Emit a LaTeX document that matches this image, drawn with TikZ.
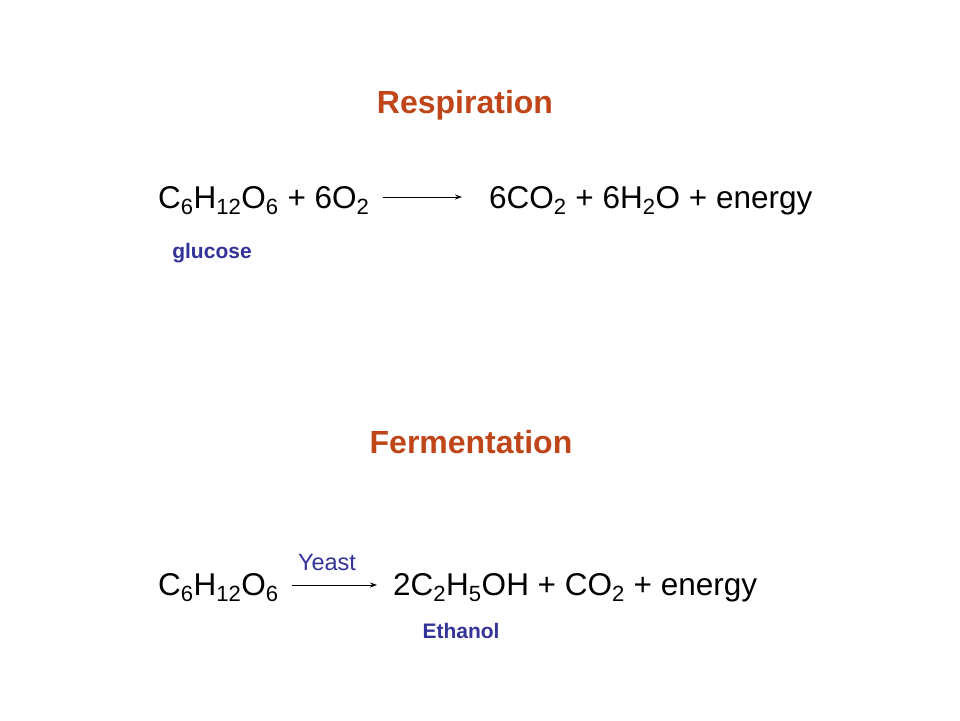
\documentclass[tikz,border=0pt]{standalone}
\usepackage{fontspec}
\setmainfont{Liberation Sans}
\usetikzlibrary{arrows.meta}
\definecolor{ttl}{HTML}{C0461A}
\definecolor{lbl}{HTML}{333399}
\newcommand{\sbs}[1]{\textsubscript{#1}}
\begin{document}
\begin{tikzpicture}[x=1pt,y=-1pt,
  title/.style={font=\fontsize{32}{36}\selectfont\bfseries,text=ttl,inner sep=0},
  eq/.style={font=\fontsize{31.5}{36}\selectfont,anchor=base west,inner sep=0},
  note/.style={font=\fontsize{21}{24}\selectfont\bfseries,text=lbl,inner sep=0},
  yst/.style={font=\fontsize{23.5}{26}\selectfont,text=lbl,inner sep=0},
  arr/.style={-{Stealth[length=7pt,width=5pt]},line width=1pt}]
\useasboundingbox (0,0) rectangle (960,720);
\fill[white] (0,0) rectangle (960,720);
\node[title] (t1) at (465,105) {Respiration};
\node[eq] (l1) at (158,208) {C\sbs{6}H\sbs{12}O\sbs{6} + 6O\sbs{2}};
\node[eq] (r1) at (489,208) {6CO\sbs{2} + 6H\sbs{2}O + energy};
\coordinate (a1s) at (383,197);
\coordinate (a1e) at (462,197);
\draw[arr] (a1s) -- (a1e);
\node[note] (g) at (212,253) {glucose};
\node[title] (t2) at (471,442) {Fermentation};
\node[eq] (l2) at (158,595) {C\sbs{6}H\sbs{12}O\sbs{6}};
\node[eq] (r2) at (393,595) {2C\sbs{2}H\sbs{5}OH + CO\sbs{2} + energy};
\coordinate (a2s) at (292,585);
\coordinate (a2e) at (377,585);
\draw[arr] (a2s) -- (a2e);
\node[yst] (y) at (327,563) {Yeast};
\node[note] (e) at (461,631) {Ethanol};
\end{tikzpicture}
\end{document}
